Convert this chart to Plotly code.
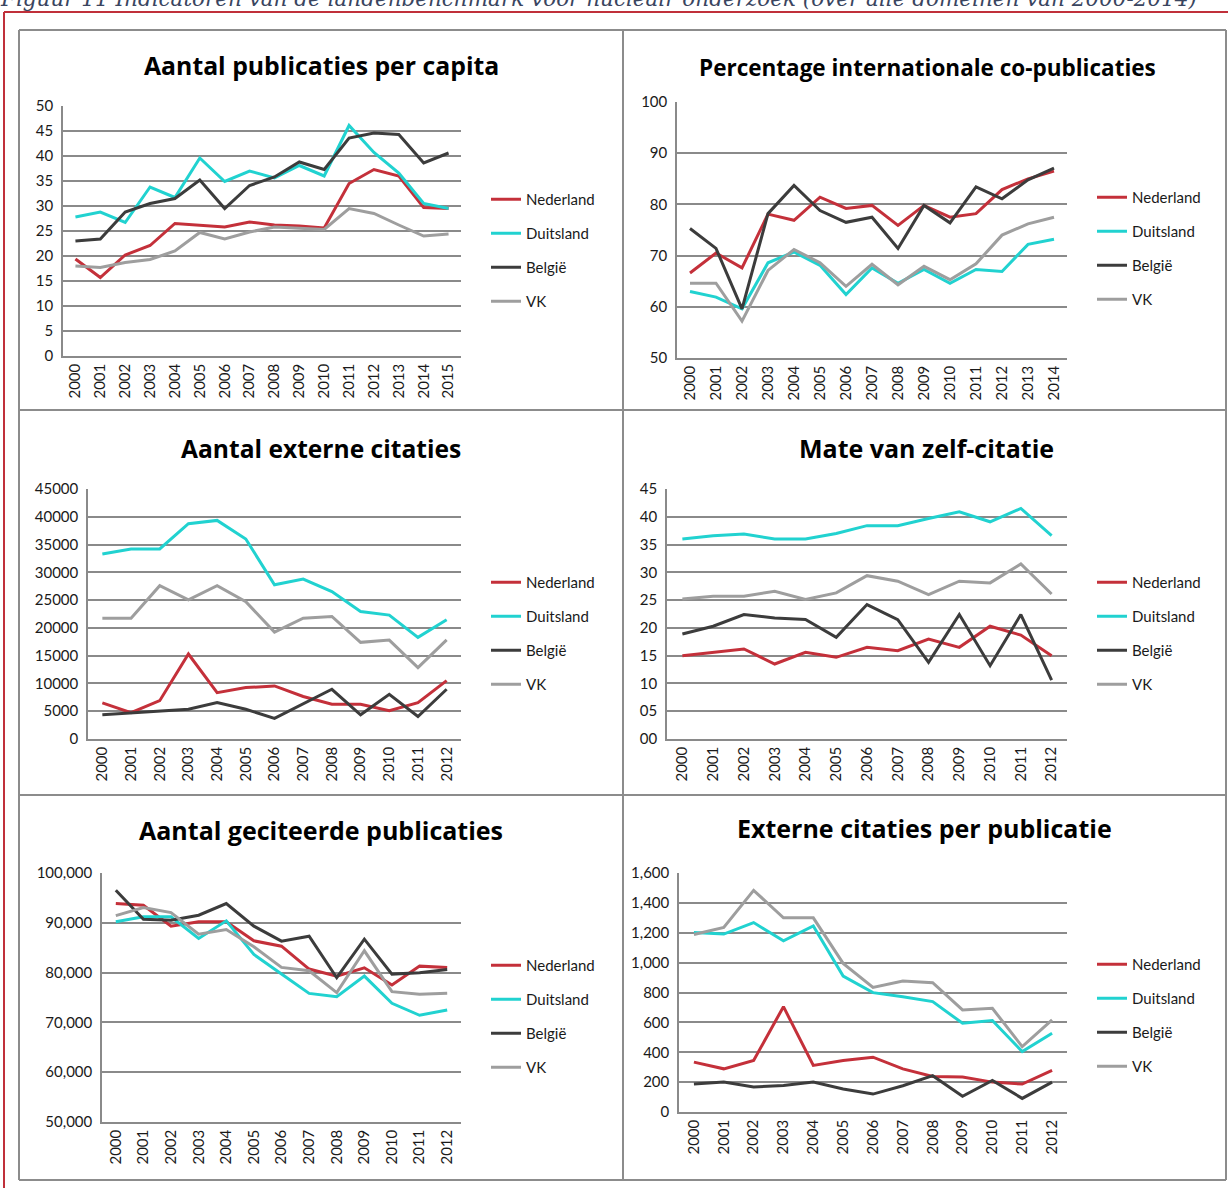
import plotly.graph_objects as go

W, H = 1228, 1188

countries = ["Nederland", "Duitsland", "België", "VK"]
colors = {"Nederland": "#c4303a", "Duitsland": "#21d2d0",
          "België": "#3c3c3c", "VK": "#9e9e9e"}

years_15 = [str(y) for y in range(2000, 2016)]
years_14 = [str(y) for y in range(2000, 2015)]
years_12 = [str(y) for y in range(2000, 2013)]

# Aantal publicaties per capita
pub_capita = {
    "Nederland": [19.4, 15.7, 20.2, 22.1, 26.5, 26.2, 25.8, 26.8, 26.2, 26.0, 25.6, 34.5, 37.3, 36.0, 29.7, 29.5],
    "Duitsland": [27.8, 28.8, 26.7, 33.8, 31.7, 39.6, 34.9, 37.0, 35.6, 38.1, 36.0, 46.1, 40.7, 36.6, 30.5, 29.5],
    "België": [23.0, 23.4, 28.8, 30.5, 31.5, 35.2, 29.5, 34.1, 35.8, 38.8, 37.3, 43.6, 44.6, 44.3, 38.6, 40.6],
    "VK": [18.0, 17.7, 18.7, 19.3, 21.0, 24.7, 23.4, 24.8, 25.8, 25.5, 25.3, 29.5, 28.5, 26.2, 24.0, 24.4],
}

# Percentage internationale co-publicaties
intl_copub = {
    "Nederland": [66.6, 70.5, 67.6, 78.1, 76.9, 81.4, 79.2, 79.8, 75.9, 79.8, 77.5, 78.2, 82.9, 85.0, 86.5],
    "Duitsland": [63.0, 61.9, 59.6, 68.6, 70.7, 68.1, 62.4, 67.6, 64.6, 67.3, 64.6, 67.3, 66.9, 72.2, 73.2],
    "België": [75.3, 71.4, 59.6, 78.2, 83.7, 78.8, 76.5, 77.5, 71.4, 79.8, 76.4, 83.4, 81.1, 84.8, 87.1],
    "VK": [64.6, 64.6, 57.2, 67.1, 71.2, 68.6, 64.0, 68.3, 64.3, 67.9, 65.3, 68.4, 74.0, 76.2, 77.5],
}

# Aantal externe citaties
ext_cit = {
    "Nederland": [6500, 4750, 6900, 15300, 8350, 9250, 9550, 7650, 6250, 6250, 5100, 6550, 10500],
    "Duitsland": [33300, 34200, 34200, 38750, 39350, 36000, 27750, 28800, 26550, 22950, 22300, 18300, 21450],
    "België": [4350, 4650, 5050, 5350, 6550, 5350, 3700, 6300, 8950, 4350, 8050, 4050, 8950],
    "VK": [21750, 21750, 27600, 25050, 27600, 24700, 19250, 21750, 22050, 17400, 17800, 12850, 17850],
}

# Mate van zelf-citatie
self_cit = {
    "Nederland": [15.0, 15.6, 16.2, 13.5, 15.6, 14.7, 16.5, 15.9, 18.0, 16.5, 20.3, 18.7, 15.0],
    "Duitsland": [36.0, 36.6, 36.9, 36.0, 36.0, 37.0, 38.4, 38.4, 39.7, 40.9, 39.1, 41.5, 36.6],
    "België": [18.9, 20.3, 22.4, 21.8, 21.5, 18.3, 24.2, 21.5, 13.8, 22.4, 13.2, 22.4, 10.6],
    "VK": [25.2, 25.7, 25.7, 26.6, 25.1, 26.3, 29.4, 28.4, 26.0, 28.4, 28.1, 31.5, 26.1],
}

# Aantal geciteerde publicaties
cited_pub = {
    "Nederland": [93860, 93520, 89320, 90190, 90190, 86380, 85310, 80710, 79300, 80970, 77500, 81300, 81040],
    "Duitsland": [90190, 91190, 91190, 86850, 90390, 83640, 79700, 75830, 75170, 79300, 73830, 71430, 72500],
    "België": [96530, 90720, 90520, 91520, 93860, 89320, 86310, 87310, 78970, 86710, 79700, 79970, 80640],
    "VK": [91450, 93060, 92060, 87720, 88650, 85180, 81040, 80370, 75970, 84380, 76170, 75630, 75830],
}

# Externe citaties per publicatie
ext_per_pub = {
    "Nederland": [334, 289, 345, 705, 312, 345, 367, 289, 238, 234, 200, 187, 278],
    "Duitsland": [1202, 1191, 1268, 1146, 1246, 910, 799, 772, 739, 594, 612, 405, 527],
    "België": [187, 200, 167, 178, 200, 154, 120, 176, 243, 105, 211, 91, 200],
    "VK": [1188, 1235, 1484, 1300, 1300, 995, 834, 877, 866, 683, 694, 438, 616],
}

# title, years, data, y range, dtick, tickformat, plot box px (x0, x1, y0, y1), title pos, title size, legend pos
panels = [
    ("Aantal publicaties per capita", years_15, pub_capita, [0, 50], 5, "d",
     (63, 461, 106, 356), (321, 65), 24.8, (486, 183)),
    ("Percentage internationale co-publicaties", years_14, intl_copub, [50, 100], 10, "d",
     (677, 1067, 102, 358), (927, 67), 22.5, (1092, 181)),
    ("Aantal externe citaties", years_12, ext_cit, [0, 45000], 5000, "d",
     (88, 461, 489, 739), (321, 448), 24.6, (486, 566)),
    ("Mate van zelf-citatie", years_12, self_cit, [0, 45], 5, "02d",
     (667, 1067, 489, 739), (926, 448), 25, (1092, 566)),
    ("Aantal geciteerde publicaties", years_12, cited_pub, [50000, 100000], 10000, ",d",
     (102, 461, 873, 1122), (321, 830), 25, (486, 949)),
    ("Externe citaties per publicatie", years_12, ext_per_pub, [0, 1600], 200, ",d",
     (679, 1067, 873, 1112), (924, 828), 25, (1092, 948)),
]


def fx(x):
    return x / W


def fy(y):
    return 1 - y / H


FONT = "Lato, 'Open Sans', sans-serif"
TITLE_FONT = "'Open Sans', Lato, sans-serif"
GRID = "#8a8a8a"

fig = go.Figure()
layout = dict(
    width=W, height=H,
    margin=dict(l=0, r=0, t=0, b=0, autoexpand=False),
    paper_bgcolor="white",
    plot_bgcolor="white",
    font=dict(family=FONT, color="#1a1a1a"),
    annotations=[],
    shapes=[],
)

for i, (title, years, data, yr, dtick, fmt, box, tpos, tsize, lpos) in enumerate(panels):
    n = i + 1
    xa = "x" if n == 1 else f"x{n}"
    ya = "y" if n == 1 else f"y{n}"
    lg = "legend" if n == 1 else f"legend{n}"
    for c in countries:
        fig.add_trace(go.Scatter(
            x=years, y=data[c], name=c, mode="lines",
            line=dict(color=colors[c], width=3),
            xaxis=xa, yaxis=ya, legend=lg, legendgroup=f"{c}{n}",
        ))
    x0, x1, y0, y1 = box
    layout[f"xaxis{'' if n == 1 else n}"] = dict(
        domain=[fx(x0), fx(x1)], anchor=ya, type="category",
        tickangle=-90, showgrid=False, showline=True, linecolor=GRID, linewidth=1.5,
        ticks="", tickfont=dict(size=15, family=FONT, color="#1a1a1a"),
        range=[-0.5, len(years) - 0.5], automargin=False,
    )
    layout[f"yaxis{'' if n == 1 else n}"] = dict(
        domain=[fy(y1), fy(y0)], anchor=xa, range=yr, dtick=dtick, tick0=yr[0],
        tickformat=fmt, showgrid=True, gridcolor=GRID, gridwidth=1.5,
        showline=True, linecolor=GRID, linewidth=1.5, zeroline=False,
        ticks="", ticklabelstandoff=5, automargin=False,
        tickfont=dict(size=15, family=FONT, color="#1a1a1a"),
    )
    layout[lg] = dict(
        x=fx(lpos[0]), y=fy(lpos[1]), xanchor="left", yanchor="top",
        bgcolor="rgba(0,0,0,0)", itemwidth=30, tracegroupgap=11.5,
        font=dict(size=15, family=FONT, color="#1a1a1a"),
    )
    layout["annotations"].append(dict(
        text=f"<b>{title}</b>", x=fx(tpos[0]), y=fy(tpos[1]), xref="paper", yref="paper",
        showarrow=False, xanchor="center", yanchor="middle",
        font=dict(size=tsize, family=TITLE_FONT, color="#000000"),
    ))

# caption, cut off at the top of the page as in the source document
layout["annotations"].append(dict(
    text="<i>Figuur 11 Indicatoren van de landenbenchmark voor nucleair onderzoek (over alle domeinen van 2000-2014)</i>",
    x=fx(598), y=fy(13), xref="paper", yref="paper", showarrow=False,
    xanchor="center", yanchor="bottom",
    font=dict(size=21.5, family="'DejaVu Serif', serif", color="#3a4560"),
))

# red outer border
red = dict(color="#c0303a", width=2)
layout["shapes"].append(dict(type="line", xref="paper", yref="paper",
                             x0=fx(4), x1=1, y0=fy(12), y1=fy(12), line=red))
layout["shapes"].append(dict(type="line", xref="paper", yref="paper",
                             x0=fx(4), x1=fx(4), y0=fy(12), y1=0, line=red))

# gray panel frame
frame = dict(color="#8c8c8c", width=2)
for (a, b, c, d) in [
    (19, 30, 1226, 30), (19, 1180, 1226, 1180), (19, 30, 19, 1180), (1226, 30, 1226, 1180),
    (623, 30, 623, 1180), (19, 410, 1226, 410), (19, 795, 1226, 795),
]:
    layout["shapes"].append(dict(type="line", xref="paper", yref="paper",
                                 x0=fx(a), x1=fx(c), y0=fy(b), y1=fy(d), line=frame))

fig.update_layout(**layout)
fig.write_html("out.html", config={"displayModeBar": False},
               post_script="document.body.style.margin='0px';")
